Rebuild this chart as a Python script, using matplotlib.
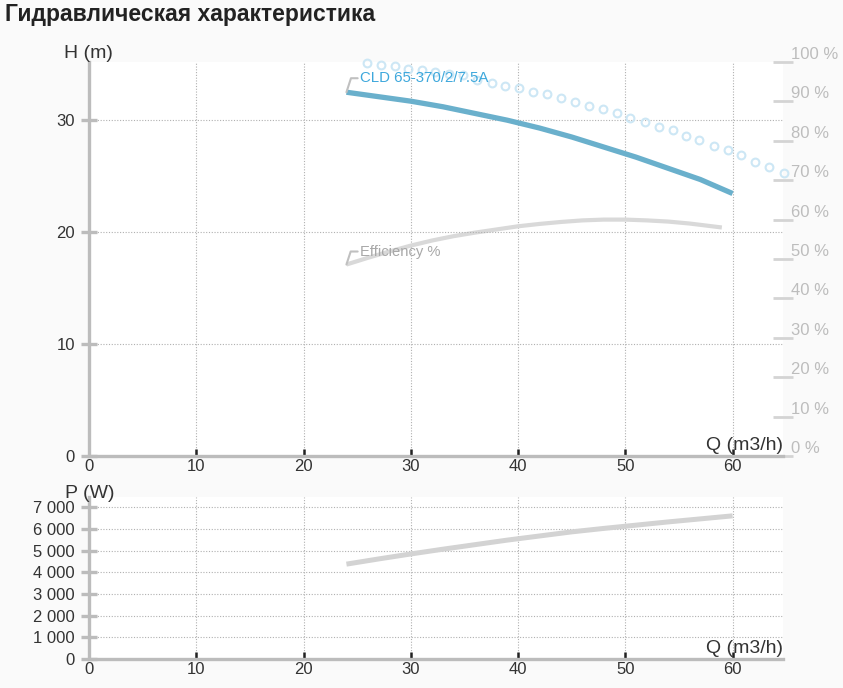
import matplotlib
matplotlib.use("Agg")
import matplotlib.pyplot as plt

plt.rcParams['font.family'] = ['Liberation Sans', 'DejaVu Sans']

# ---- data ----
q_curve = [24, 27, 30, 33, 36, 39, 42, 45, 48, 51, 54, 57, 60]
h_curve = [32.5, 32.1, 31.7, 31.2, 30.6, 30.0, 29.3, 28.5, 27.6, 26.7, 25.7, 24.7, 23.45]
q_eff = [24, 26, 28, 30, 32, 34, 36, 38, 40, 42, 44, 46, 48, 50, 52, 54, 56, 59]
eff_curve = [48.6, 50.3, 51.9, 53.4, 54.7, 55.8, 56.7, 57.5, 58.3, 58.9, 59.4, 59.8,
             60.0, 60.0, 59.8, 59.5, 59.0, 58.0]
p_curve = [4380, 4620, 4850, 5070, 5280, 5490, 5680, 5870, 6030, 6180, 6330, 6470, 6610]

q_dots = [25.9, 27.2, 28.5, 29.7, 31.0, 32.3, 33.6, 34.9, 36.2, 37.6, 38.8, 40.1,
          41.4, 42.7, 44.0, 45.3, 46.6, 47.9, 49.2, 50.4, 51.8, 53.1, 54.4, 55.7,
          56.9, 58.3, 59.6, 60.8, 62.1, 63.4, 64.8]
h_dots = [35.1, 34.9, 34.8, 34.6, 34.5, 34.3, 34.1, 34.0, 33.6, 33.3, 33.1, 32.9,
          32.5, 32.3, 32.0, 31.6, 31.3, 31.0, 30.6, 30.2, 29.85, 29.4, 29.1, 28.6,
          28.2, 27.7, 27.3, 26.9, 26.3, 25.8, 25.3]

x_ticks = [0, 10, 20, 30, 40, 50, 60]
h_ticks = [0, 10, 20, 30]
eff_ticks = [0, 10, 20, 30, 40, 50, 60, 70, 80, 90, 100]
p_ticks = [0, 1000, 2000, 3000, 4000, 5000, 6000, 7000]
p_tick_labels = ['0', '1 000', '2 000', '3 000', '4 000', '5 000', '6 000', '7 000']

title = 'Гидравлическая характеристика'
pump_name = 'CLD 65-370/2/7.5A'

# ---- style ----
W, H = 843, 688
fig = plt.figure(figsize=(W / 100, H / 100), dpi=100, facecolor='#fafafa')

axis_gray = '#bcbcbc'
text_dark = '#333333'
grid_kw = dict(color='#b0b0b0', linestyle=(0, (1, 1.5)), linewidth=0.8)

def px_axes(left, top, right, bottom):
    return fig.add_axes([left / W, 1 - bottom / H, (right - left) / W, (bottom - top) / H])

def style_axes(ax):
    ax.set_facecolor('white')
    for s in ['top', 'right']:
        ax.spines[s].set_visible(False)
    for s in ['left', 'bottom']:
        ax.spines[s].set_color(axis_gray)
        ax.spines[s].set_linewidth(2.4)
    ax.tick_params(axis='y', direction='inout', length=12, width=2.4, color=axis_gray,
                   labelsize=12, labelcolor=text_dark, pad=4)
    ax.tick_params(axis='x', direction='in', length=5, width=1.8, color='#222222',
                   labelsize=12, labelcolor=text_dark, pad=2)
    ax.grid(True, **grid_kw)
    ax.set_axisbelow(True)

# ---- top chart ----
ax = px_axes(89, 62, 783, 456)
style_axes(ax)
ax.set_xlim(0, 64.7)
ax.set_ylim(0, 35.2)
ax.set_xticks(x_ticks)
ax.set_yticks(h_ticks)

ax2 = ax.twinx()
ax2.set_ylim(0, 100)
ax2.set_yticks(eff_ticks)
ax2.set_yticklabels([f'{v} %' for v in eff_ticks])
for s in ['top', 'left', 'bottom', 'right']:
    ax2.spines[s].set_visible(False)
ax2.tick_params(axis='y', direction='inout', length=14, width=2.0, color='#d4d4d4',
                labelsize=12, labelcolor='#bdbdbd', pad=-1)
for lab in ax2.get_yticklabels():
    lab.set_va('bottom')

ax2.plot(q_eff, eff_curve, color='#d9d9d9', linewidth=3.0, solid_capstyle='butt', zorder=3)
ax.plot(q_dots, h_dots, linestyle='none', marker='o', markersize=5.6,
        markerfacecolor='none', markeredgecolor='#cde7f5', markeredgewidth=1.5,
        clip_on=False, zorder=2)
ax.plot(q_curve, h_curve, color='#6ab0cc', linewidth=3.8, solid_capstyle='butt', zorder=5)
ax.set_zorder(ax2.get_zorder() + 1)
ax.patch.set_visible(False)
ax2.patch.set_visible(True)
ax2.patch.set_facecolor('white')
ax.grid(False)
ax2.grid(False)
for v in x_ticks[1:]:
    ax2.axvline(v, zorder=0, **grid_kw)
for v in h_ticks[1:]:
    ax.axhline(v, zorder=0, **grid_kw)

leader = dict(arrowstyle='-', color='#c0c0c0', lw=1.5, shrinkA=0, shrinkB=0,
              connectionstyle='angle,angleA=0,angleB=72,rad=0')
ax.annotate(pump_name, xy=(q_curve[0], h_curve[0]), xytext=(14, 14),
            textcoords='offset pixels', ha='left', va='center', fontsize=10.8,
            color='#3ea8dc', arrowprops=leader, zorder=6)
ax2.annotate('Efficiency %', xy=(q_eff[0], eff_curve[0]), xytext=(14, 13),
             textcoords='offset pixels', ha='left', va='center', fontsize=10.6,
             color='#a8a8a8', arrowprops=leader, zorder=6)

fig.text(113 / W, 1 - 53 / H, 'H (m)', ha='right', va='center', fontsize=14, color=text_dark)
ax.text(1.0, 0.005, 'Q (m3/h)', transform=ax.transAxes, ha='right', va='bottom',
        fontsize=14, color=text_dark)

# ---- bottom chart ----
bx = px_axes(89, 497, 783, 659)
style_axes(bx)
bx.set_xlim(0, 64.7)
bx.set_ylim(0, 7480)
bx.set_xticks(x_ticks)
bx.set_yticks(p_ticks)
bx.set_yticklabels(p_tick_labels)
bx.plot(q_curve, p_curve, color='#d3d3d3', linewidth=3.6, solid_capstyle='butt', zorder=3)
fig.text(65 / W, 1 - 494 / H, 'P (W)', ha='left', va='center', fontsize=14, color=text_dark)
bx.text(1.0, 0.01, 'Q (m3/h)', transform=bx.transAxes, ha='right', va='bottom',
        fontsize=14, color=text_dark)

fig.text(5 / W, 1 - 15 / H, title, ha='left', va='center', fontsize=16.5,
         fontweight='bold', color='#222222')

fig.savefig('out.png', dpi=100, facecolor=fig.get_facecolor())
